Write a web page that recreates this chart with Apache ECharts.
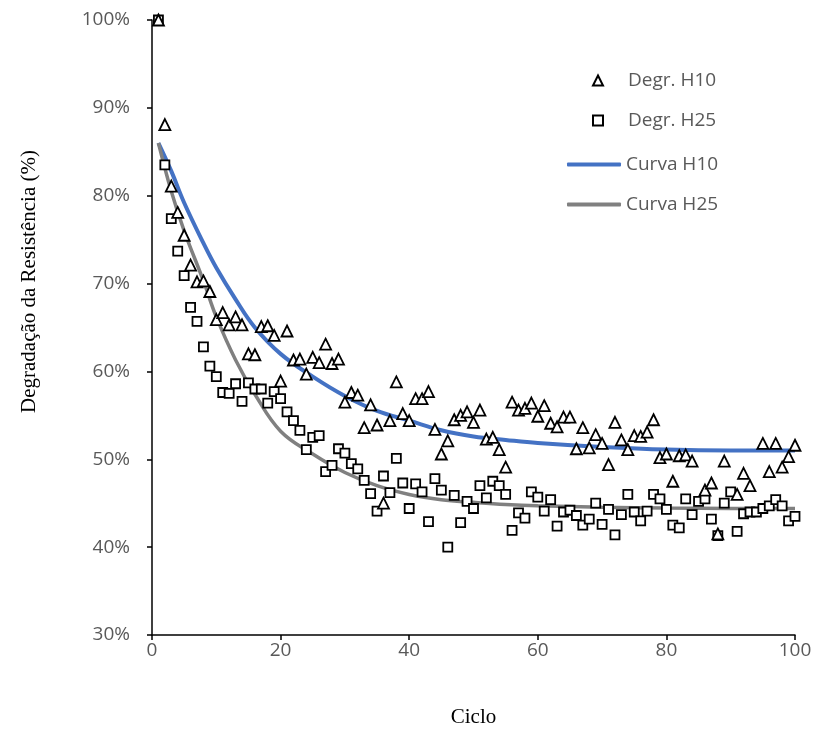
<!DOCTYPE html>
<html>
<head>
<meta charset="utf-8">
<script src="https://cdn.jsdelivr.net/npm/echarts@6/dist/echarts.min.js"></script>
<style>
  html, body { margin: 0; padding: 0; background: #ffffff; }
  #chart { width: 816px; height: 733px; }
</style>
</head>
<body>
<div id="chart"></div>
<script>
// Resistance degradation (%) per cycle, two mixes, with their fitted curves
const cycles = Array.from({ length: 100 }, (_, i) => i + 1);

const degrH10 = [
  100, 88.1, 81.1, 78.1, 75.5, 72.1, 70.2, 70.3, 69.1, 65.9,
  66.7, 65.3, 66.2, 65.3, 62.0, 61.9, 65.1, 65.2, 64.1, 58.9,
  64.6, 61.3, 61.4, 59.7, 61.6, 61.0, 63.1, 60.9, 61.4, 56.5,
  57.6, 57.3, 53.6, 56.2, 53.9, 45.0, 54.4, 58.8, 55.2, 54.4,
  56.9, 56.9, 57.7, 53.4, 50.6, 52.1, 54.5, 55.0, 55.4, 54.2,
  55.6, 52.3, 52.5, 51.1, 49.1, 56.5, 55.6, 55.8, 56.4, 54.9,
  56.1, 54.1, 53.7, 54.8, 54.8, 51.2, 53.6, 51.3, 52.8, 51.8,
  49.4, 54.2, 52.2, 51.1, 52.7, 52.6, 53.1, 54.5, 50.2, 50.6,
  47.5, 50.4, 50.5, 49.8, null, 46.5, 47.3, 41.5, 49.8, null,
  46.0, 48.4, 47.0, null, 51.8, 48.6, 51.8, 49.1, 50.3, 51.6
];

const degrH25 = [
  100, 83.5, 77.4, 73.7, 70.9, 67.3, 65.7, 62.8, 60.6, 59.4,
  57.6, 57.5, 58.6, 56.6, 58.7, 58.0, 58.0, 56.4, 57.7, 56.9,
  55.4, 54.4, 53.3, 51.1, 52.5, 52.7, 48.6, 49.3, 51.2, 50.7,
  49.5, 48.9, 47.6, 46.1, 44.1, 48.1, 46.2, 50.1, 47.3, 44.4,
  47.2, 46.3, 42.9, 47.8, 46.5, 40.0, 45.9, 42.8, 45.2, 44.4,
  47.0, 45.6, 47.5, 47.0, 46.0, 41.9, 43.9, 43.3, 46.3, 45.7,
  44.1, 45.4, 42.4, 44.0, 44.2, 43.6, 42.5, 43.2, 45.0, 42.6,
  44.3, 41.4, 43.7, 46.0, 44.0, 43.0, 44.1, 46.0, 45.5, 44.3,
  42.5, 42.2, 45.5, 43.7, 45.2, 45.5, 43.2, 41.3, 45.0, 46.3,
  41.8, 43.8, 44.0, 44.0, 44.4, 44.7, 45.4, 44.7, 43.0, 43.5
];

// Fitted curves, sampled along the cycle axis
const curveCycles = [1, 3, 5, 8, 10, 13, 16, 20, 25, 30, 35, 40, 45, 50, 55, 60, 70, 80, 90, 100];
const curveH10 = [86.0, 82.8, 79.2, 74.6, 71.8, 68.2, 65.0, 62.0, 59.4, 57.2, 55.5, 54.4, 53.3, 52.6, 52.2, 51.85, 51.4, 51.1, 51.0, 51.0];
const curveH25 = [86.0, 80.5, 76.0, 70.3, 66.2, 61.3, 57.4, 53.2, 50.6, 48.5, 47.0, 46.0, 45.4, 45.1, 44.85, 44.7, 44.55, 44.45, 44.4, 44.4];

const xTicks = [0, 20, 40, 60, 80, 100];
const yTicks = [30, 40, 50, 60, 70, 80, 90, 100];

const pairs = (xs, ys) => xs.map((x, i) => [x, ys[i]]).filter(p => p[1] !== null);

const labelFont = '"Open Sans", "Liberation Sans", sans-serif';
const titleFont = '"Liberation Serif", "DejaVu Serif", serif';
const legendText = { fontFamily: labelFont, fontSize: 19, color: '#595959' };

const chart = echarts.init(document.getElementById('chart'), null, { renderer: 'canvas' });

chart.setOption({
  animation: false,
  backgroundColor: '#ffffff',
  grid: { left: 152, right: 21, top: 20, bottom: 97, containLabel: false },
  legend: [
    {
      // marker entries
      orient: 'vertical',
      left: 587,
      top: 66,
      itemWidth: 10,
      itemHeight: 10,
      itemGap: 21,
      textStyle: Object.assign({ padding: [0, 0, 0, 20] }, legendText),
      data: ['Degr. H10', 'Degr. H25']
    },
    {
      // fitted-curve entries
      orient: 'vertical',
      left: 562,
      top: 150,
      itemWidth: 54,
      itemHeight: 4,
      itemGap: 21,
      icon: 'roundRect',
      textStyle: legendText,
      data: ['Curva H10', 'Curva H25']
    }
  ],
  xAxis: {
    type: 'value',
    min: xTicks[0],
    max: xTicks[xTicks.length - 1],
    interval: 20,
    name: 'Ciclo',
    nameLocation: 'middle',
    nameGap: 72,
    nameTextStyle: { fontFamily: titleFont, fontSize: 21, color: '#000000' },
    axisLine: { lineStyle: { color: '#000000', width: 1.5 } },
    axisTick: { show: true, inside: false, length: 5, lineStyle: { color: '#000000', width: 1.5 } },
    axisLabel: { margin: 6, fontFamily: labelFont, fontSize: 19, color: '#595959' },
    splitLine: { show: false }
  },
  yAxis: {
    type: 'value',
    min: yTicks[0],
    max: yTicks[yTicks.length - 1],
    interval: 10,
    name: 'Degradação da Resistência (%)',
    nameLocation: 'middle',
    nameGap: 112,
    nameTextStyle: { fontFamily: titleFont, fontSize: 21, color: '#000000', padding: [0, 0, 0, 92] },
    axisLine: { show: true, lineStyle: { color: '#000000', width: 1.5 } },
    axisTick: { show: true, inside: false, length: 5, lineStyle: { color: '#000000', width: 1.5 } },
    axisLabel: { margin: 22, fontFamily: labelFont, fontSize: 19, color: '#595959', formatter: '{value}%' },
    splitLine: { show: false }
  },
  series: [
    {
      name: 'Curva H10',
      type: 'line',
      data: pairs(curveCycles, curveH10),
      smooth: 0.4,
      showSymbol: false,
      symbol: 'none',
      lineStyle: { color: '#4472C4', width: 4 },
      itemStyle: { color: '#4472C4' },
      z: 2
    },
    {
      name: 'Curva H25',
      type: 'line',
      data: pairs(curveCycles, curveH25),
      smooth: 0.4,
      showSymbol: false,
      symbol: 'none',
      lineStyle: { color: '#808080', width: 3.5 },
      itemStyle: { color: '#808080' },
      z: 2
    },
    {
      name: 'Degr. H10',
      type: 'scatter',
      data: pairs(cycles, degrH10),
      symbol: 'triangle',
      symbolSize: 11,
      itemStyle: { color: '#ffffff', borderColor: '#000000', borderWidth: 1.8, opacity: 1 },
      z: 4
    },
    {
      name: 'Degr. H25',
      type: 'scatter',
      data: pairs(cycles, degrH25),
      symbol: 'rect',
      symbolSize: 9,
      itemStyle: { color: '#ffffff', borderColor: '#000000', borderWidth: 1.8, opacity: 1 },
      z: 3
    }
  ]
});
</script>
</body>
</html>
